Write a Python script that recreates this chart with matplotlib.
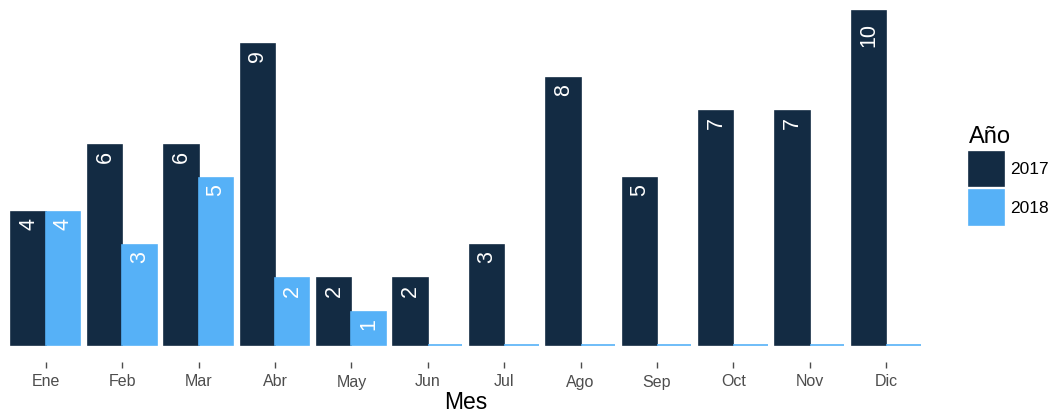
import matplotlib.pyplot as plt
import numpy as np

meses = ["Ene", "Feb", "Mar", "Abr", "May", "Jun", "Jul", "Ago", "Sep", "Oct", "Nov", "Dic"]
v2017 = [4, 6, 6, 9, 2, 2, 3, 8, 5, 7, 7, 10]
v2018 = [4, 3, 5, 2, 1, 0, 0, 0, 0, 0, 0, 0]

C2017 = "#132B43"
C2018 = "#56B1F7"

plt.rcParams["font.family"] = ["Liberation Sans", "DejaVu Sans"]

fig = plt.figure(figsize=(10.58, 4.17), dpi=100)
ax = fig.add_axes([0.0, 55 / 417, 932 / 1058, 362 / 417])

x = np.arange(len(meses))
w = 0.45
for vals, color, off, lab in [(v2017, C2017, -w / 2, "2017"), (v2018, C2018, w / 2, "2018")]:
    ax.bar(x + off, vals, width=w, color=color, edgecolor=color, linewidth=1.2, label=lab)
    for xi, v in zip(x + off, vals):
        if v > 0:
            s = str(v)
            # hueco proporcional al largo del texto (como hjust=1.5)
            ax.annotate(s, xy=(xi, v), xytext=(0, -4.4 * len(s)), textcoords="offset points",
                        rotation=90, ha="center", va="top", color="white", fontsize=15.5)

ax.set_xlim(-0.6, len(meses) - 1 + 0.6)
ax.set_ylim(-0.5, 10.33)
ax.set_xticks(x)
ax.set_xticklabels(meses, color="#4D4D4D", fontsize=11.5)
ax.tick_params(axis="x", length=4, width=1, color="#4D4D4D", direction="out", pad=5)
ax.set_yticks([])
for s in ax.spines.values():
    s.set_visible(False)
ax.set_xlabel("Mes", fontsize=16.5, labelpad=1)

leg = fig.legend(loc="upper left", bbox_to_anchor=(962 / 1058, 1 - 119 / 417), title="Año",
                 frameon=False, fontsize=12.5, title_fontsize=17, handlelength=2.0,
                 handleheight=2.7, labelspacing=0.22, handletextpad=0.4, alignment="left",
                 borderaxespad=0)

fig.savefig("out.png", dpi=100)
